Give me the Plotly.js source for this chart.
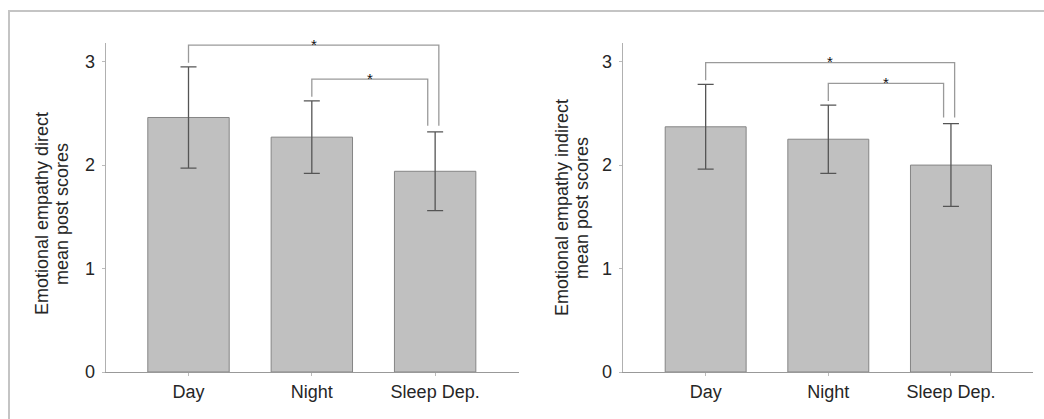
<!DOCTYPE html>
<html><head><meta charset="utf-8">
<script src="https://cdn.plot.ly/plotly-3.0.1.min.js"></script>
<style>html,body{margin:0;padding:0;background:#fff}</style>
</head><body><div id="chart" style="width:1044px;height:419px"></div>
<script>
// ---- data ----
const categories = ["Day", "Night", "Sleep Dep."];
const directMeans = [2.46, 2.27, 1.94];
const directErrors = [0.49, 0.35, 0.38];
const indirectMeans = [2.37, 2.25, 2.00];
const indirectErrors = [0.41, 0.33, 0.40];
const significantPairs = [[0, 2], [1, 2]];
const sigLabel = "*";
const yTickVals = [0, 1, 2, 3];
const directTitle = ["Emotional empathy direct", "mean post scores"];
const indirectTitle = ["Emotional empathy indirect", "mean post scores"];

// ---- styling ----
const W = 1044, H = 419;
const px = v => v / W;
const py = v => 1 - v / H;
const FONT = "Liberation Sans, Arial, sans-serif";
const TXT = "#262626";
const barFill = "#c0c0c0", barLine = "#858585";
const errColor = "#555";
const brkColor = "#9a9a9a";

function barTrace(means, errs, xa, ya) {
  return {
    type: "bar", x: categories, y: means, xaxis: xa, yaxis: ya,
    width: 0.66,
    marker: {color: barFill, line: {color: barLine, width: 1}},
    error_y: {type: "data", array: errs, visible: true, color: errColor, thickness: 1.3, width: 8},
    hoverinfo: "skip", showlegend: false
  };
}

const shapes = [];
const annotations = [];

function addBrackets(means, errs, xref, yref) {
  const tops = means.map((m, i) => m + errs[i]);
  significantPairs.forEach((pair) => {
    const [a, b] = pair;
    let maxTop = 0;
    for (let i = a; i <= b; i++) maxTop = Math.max(maxTop, tops[i]);
    const level = maxTop + 0.21;
    const outer = (b - a) > 1;
    const xa = a;
    const xb = b + (outer ? 0.03 : -0.06);
    const line = {color: brkColor, width: 1.3};
    shapes.push({type: "path", xref: xref, yref: yref,
      path: `M ${xa} ${tops[a] + 0.04} L ${xa} ${level} L ${xb} ${level} L ${xb} ${tops[b] + 0.06}`,
      line: line});
    annotations.push({xref: xref, yref: yref, x: (xa + xb) / 2, y: level, text: sigLabel,
      showarrow: false, yanchor: "middle", yshift: 1,
      font: {family: FONT, size: 15, color: "#111"}});
  });
}

addBrackets(directMeans, directErrors, "x", "y");
addBrackets(indirectMeans, indirectErrors, "x2", "y2");

function titleLines(lines, xs, ycenter) {
  lines.forEach((t, i) => annotations.push({
    xref: "paper", yref: "paper", x: px(xs[i]), y: py(ycenter), text: t,
    textangle: -90, showarrow: false, xanchor: "center", yanchor: "middle",
    font: {family: FONT, size: 18, color: TXT}
  }));
}
titleLines(directTitle, [42, 62], 214);
titleLines(indirectTitle, [562, 582], 208);

// frame (top and left edges)
shapes.push({type: "line", xref: "paper", yref: "paper", x0: px(8), x1: 1, y0: py(11), y1: py(11), line: {color: "#c4c4c4", width: 2}});
shapes.push({type: "line", xref: "paper", yref: "paper", x0: px(9), x1: px(9), y0: py(11), y1: 0, line: {color: "#c4c4c4", width: 2}});

const tickFont = {family: FONT, size: 18, color: TXT};
const yDomain = [py(372), py(43)];
function xAxis(d0, d1, r0, r1, anchor) {
  return {domain: [px(d0), px(d1)], type: "category", range: [r0, r1], anchor: anchor,
    showline: true, linecolor: "#999", linewidth: 1.3, ticks: "outside", ticklen: 3, tickcolor: "#bbb",
    showgrid: false, zeroline: false, tickfont: tickFont, fixedrange: true};
}
function yAxis(anchor) {
  return {domain: yDomain, range: [0, 3.18], anchor: anchor, tickvals: yTickVals,
    showline: true, linecolor: "#b0b0b0", linewidth: 1.3, ticks: "outside", ticklen: 3, tickcolor: "#bbb",
    ticklabelstandoff: 3,
    showgrid: false, zeroline: false, tickfont: tickFont, fixedrange: true};
}

const layout = {
  width: W, height: H, margin: {l: 0, r: 0, t: 0, b: 0},
  paper_bgcolor: "#fff", plot_bgcolor: "#fff", showlegend: false,
  xaxis: xAxis(106, 519, -0.669, 2.68, "y"),
  yaxis: yAxis("x"),
  xaxis2: xAxis(623, 1033, -0.674, 2.669, "y2"),
  yaxis2: yAxis("x2"),
  shapes: shapes, annotations: annotations
};

Plotly.newPlot("chart", [
  barTrace(directMeans, directErrors, "x", "y"),
  barTrace(indirectMeans, indirectErrors, "x2", "y2")
], layout, {staticPlot: true, displayModeBar: false});
</script></body></html>
